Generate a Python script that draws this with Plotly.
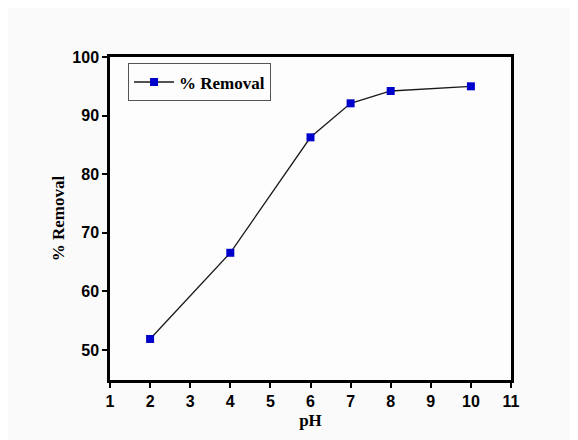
import plotly.graph_objects as go

ph = [2, 4, 6, 7, 8, 10]
removal = [51.9, 66.6, 86.3, 92.1, 94.2, 95.0]
x_ticks = list(range(1, 12))
y_ticks = [50, 60, 70, 80, 90, 100]

fig = go.Figure()
fig.add_trace(go.Scatter(
    x=ph, y=removal, mode="lines+markers", name="% Removal",
    line=dict(color="#1a1a1a", width=1.3),
    marker=dict(symbol="square", size=8, color="#0000cc",
                line=dict(color="#0000cc", width=0)),
))

axis_common = dict(
    showline=True, linecolor="black", linewidth=2.5, mirror=True,
    ticks="outside", ticklen=5, tickwidth=2, tickcolor="black",
    showgrid=False, zeroline=False,
    tickfont=dict(family="Liberation Sans, Arial", size=16, color="black", weight="bold"),
    title_font=dict(family="Liberation Serif, Times New Roman", size=17, color="black", weight="bold"),
)

fig.update_xaxes(range=[1, 11], tickvals=x_ticks, title_text="pH", title_standoff=6, **axis_common)
fig.update_yaxes(range=[44.9, 100], tickvals=y_ticks, title_text="% Removal", title_standoff=4, **axis_common)

fig.update_layout(
    width=570, height=432,
    margin=dict(l=102, r=67, t=49, b=60),
    paper_bgcolor="#fafafa", plot_bgcolor="#fdfdfd",
    showlegend=True,
    legend=dict(x=0.045, y=0.98, xanchor="left", yanchor="top",
                bgcolor="#fdfdfd", bordercolor="#555555", borderwidth=1,
                font=dict(family="Liberation Serif, Times New Roman", size=17, color="black", weight="bold"),
                itemwidth=40, tracegroupgap=0),
)

fig.write_html("out.html")
